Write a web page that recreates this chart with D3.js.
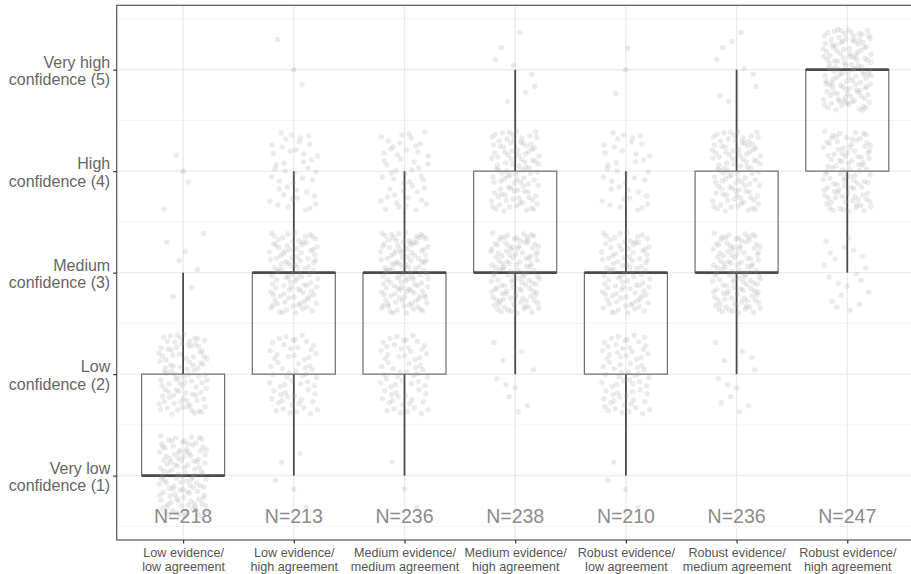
<!DOCTYPE html>
<html>
<head>
<meta charset="utf-8">
<script src="https://cdn.jsdelivr.net/npm/d3@7"></script>
<style>
body { margin: 0; background: #fff; }
svg { font-family: "Liberation Sans", Arial, sans-serif; }
</style>
</head>
<body>
<div id="chart"></div>
<script>
var w = 911,
	h = 574,
	padL = 116.7,
	padR = 913.7,
	padT = 5.3,
	padB = 540;

// categories (x axis), two lines each
var categories = [
	['Low evidence/', 'low agreement'],
	['Low evidence/', 'high agreement'],
	['Medium evidence/', 'medium agreement'],
	['Medium evidence/', 'high agreement'],
	['Robust evidence/', 'low agreement'],
	['Robust evidence/', 'medium agreement'],
	['Robust evidence/', 'high agreement']
];

// confidence levels (y axis)
var levels = [1, 2, 3, 4, 5];
var levelLabels = [
	['Very low', 'confidence (1)'],
	['Low', 'confidence (2)'],
	['Medium', 'confidence (3)'],
	['High', 'confidence (4)'],
	['Very high', 'confidence (5)']
];

// number of answers per confidence level (1..5) for each category
var countsLowLow = [113, 95, 7, 3, 0];
var countsLowHigh = [5, 62, 102, 42, 2];
var countsMedMed = [3, 65, 120, 48, 0];
var countsMedHigh = [0, 10, 122, 98, 8];
var countsRobLow = [4, 70, 95, 39, 2];
var countsRobMed = [0, 12, 115, 100, 9];
var countsRobHigh = [0, 0, 20, 100, 127];
var counts = [countsLowLow, countsLowHigh, countsMedMed, countsMedHigh, countsRobLow, countsRobMed, countsRobHigh];

var x = d3.scalePoint()
	.domain(d3.range(categories.length))
	.range([padL, padR])
	.padding(0.6);
var step = x.step();

var y = d3.scaleLinear()
	.domain([0.366, 5.634])
	.range([padB, padT]);

var svg = d3.select('#chart').append('svg')
	.attr('width', w)
	.attr('height', h);

// gridlines
var minor = d3.range(0.5, 6, 1);
svg.selectAll('.minor')
	.data(minor)
	.enter().append('line')
	.attr('x1', padL).attr('x2', padR)
	.attr('y1', y).attr('y2', y)
	.style('stroke', '#f0f0f0')
	.style('stroke-width', 0.8);

svg.selectAll('.hmajor')
	.data(levels)
	.enter().append('line')
	.attr('x1', padL).attr('x2', padR)
	.attr('y1', y).attr('y2', y)
	.style('stroke', '#ebebeb')
	.style('stroke-width', 1.3);

svg.selectAll('.vmajor')
	.data(d3.range(categories.length))
	.enter().append('line')
	.attr('x1', x).attr('x2', x)
	.attr('y1', padT).attr('y2', padB)
	.style('stroke', '#ebebeb')
	.style('stroke-width', 1.3);

// expand counts to single answers
function expand(c) {
	var out = []
	c.forEach(function(n, i) {
		for (var k = 0; k < n; k++) out.push(levels[i])
	})
	return out
}

// quasi evenly spread jitter (halton), not random
function halton(i, b) {
	var f = 1, r = 0
	while (i > 0) {
		f = f / b
		r = r + f * (i % b)
		i = Math.floor(i / b)
	}
	return r
}

var stats = counts.map(function(c, ci) {
	var v = expand(c)
	var q1 = d3.quantile(v, 0.25),
		med = d3.quantile(v, 0.5),
		q3 = d3.quantile(v, 0.75),
		iqr = q3 - q1
	var inside = v.filter(function(d) { return d >= q1 - 1.5 * iqr && d <= q3 + 1.5 * iqr })
	var outl = v.filter(function(d) { return d < q1 - 1.5 * iqr || d > q3 + 1.5 * iqr })
	return {
		i: ci, values: v, n: v.length, q1: q1, med: med, q3: q3,
		lo: d3.min(inside), hi: d3.max(inside),
		outliers: Array.from(new Set(outl))
	}
});

var bw = step * 0.75;
var g = svg.selectAll('.box')
	.data(stats)
	.enter().append('g');

// whiskers
g.append('line')
	.attr('x1', function(d) { return x(d.i) }).attr('x2', function(d) { return x(d.i) })
	.attr('y1', function(d) { return y(d.q3) }).attr('y2', function(d) { return y(d.hi) })
	.style('stroke', '#4a4a4a').style('stroke-width', 1.8);
g.append('line')
	.attr('x1', function(d) { return x(d.i) }).attr('x2', function(d) { return x(d.i) })
	.attr('y1', function(d) { return y(d.q1) }).attr('y2', function(d) { return y(d.lo) })
	.style('stroke', '#4a4a4a').style('stroke-width', 1.8);
// box
g.append('rect')
	.attr('x', function(d) { return x(d.i) - bw / 2 })
	.attr('width', bw)
	.attr('y', function(d) { return y(d.q3) })
	.attr('height', function(d) { return y(d.q1) - y(d.q3) })
	.style('fill', 'none')
	.style('stroke', '#6e6e6e')
	.style('stroke-width', 1.2);
// median
g.append('line')
	.attr('x1', function(d) { return x(d.i) - bw / 2 }).attr('x2', function(d) { return x(d.i) + bw / 2 })
	.attr('y1', function(d) { return y(d.med) }).attr('y2', function(d) { return y(d.med) })
	.style('stroke', '#4a4a4a').style('stroke-width', 2.6);

// outliers
g.selectAll('.out')
	.data(function(d) { return d.outliers.map(function(o) { return { i: d.i, v: o } }) })
	.enter().append('circle')
	.attr('cx', function(d) { return x(d.i) })
	.attr('cy', function(d) { return y(d.v) })
	.attr('r', 2.7)
	.style('fill', '#999')
	.style('fill-opacity', 0.25);

// jittered answers
g.selectAll('.pt')
	.data(function(d) { return d.values.map(function(v, k) { return { i: d.i, v: v, k: k } }) })
	.enter().append('circle')
	.attr('cx', function(d) { return x(d.i) + (halton(d.k + 1, 2) * 2 - 1) * 0.22 * step })
	.attr('cy', function(d) { return y(d.v + (halton(d.k + 1, 3) * 2 - 1) * 0.4) })
	.attr('r', 2.7)
	.style('fill', '#999')
	.style('fill-opacity', 0.2);

// N labels
svg.selectAll('.nlab')
	.data(stats)
	.enter().append('text')
	.attr('x', function(d) { return x(d.i) })
	.attr('y', y(0.6))
	.attr('dy', '0.35em')
	.attr('text-anchor', 'middle')
	.style('font-size', '19.5px')
	.style('fill', '#8c8c8c')
	.text(function(d) { return 'N=' + d.n });

// panel border
svg.append('rect')
	.attr('x', padL).attr('y', padT)
	.attr('width', padR - padL).attr('height', padB - padT)
	.style('fill', 'none')
	.style('stroke', '#555')
	.style('stroke-width', 1.2);

// axes
var yAxis = d3.axisLeft(y).tickValues(levels).tickSize(3.5).tickFormat('');
var ya = svg.append('g').attr('transform', 'translate(' + padL + ',0)').call(yAxis);
ya.select('.domain').remove();
ya.selectAll('.tick line').style('stroke', '#333').style('stroke-width', 1.2);
ya.selectAll('.tick').append('text')
	.attr('x', -6.5)
	.attr('text-anchor', 'end')
	.style('font-size', '16px')
	.style('fill', '#666')
	.selectAll('tspan')
	.data(function(d) { return levelLabels[d - 1] })
	.enter().append('tspan')
	.attr('x', -6.5)
	.attr('y', function(d, i) { return i == 0 ? -2.5 : 15 })
	.text(function(d) { return d });

var xAxis = d3.axisBottom(x).tickSize(3.5).tickFormat('');
var xa = svg.append('g').attr('transform', 'translate(0,' + padB + ')').call(xAxis);
xa.select('.domain').remove();
xa.selectAll('.tick line').style('stroke', '#333').style('stroke-width', 1.2);
xa.selectAll('.tick').append('text')
	.attr('text-anchor', 'middle')
	.style('font-size', '12.6px')
	.style('fill', '#555')
	.selectAll('tspan')
	.data(function(d) { return categories[d] })
	.enter().append('tspan')
	.attr('x', 0)
	.attr('y', function(d, i) { return i == 0 ? 17 : 30.5 })
	.text(function(d) { return d });
</script>
</body>
</html>
